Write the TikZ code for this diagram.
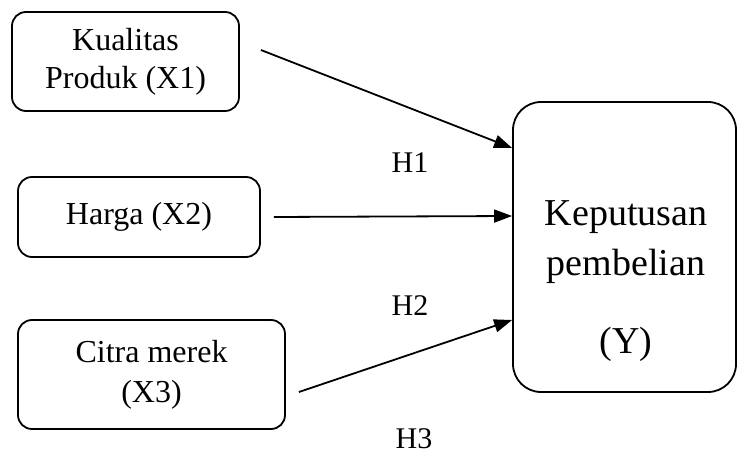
\documentclass[tikz,border=0pt]{standalone}
\usepackage{fontspec}
\setmainfont{Liberation Serif}
\usetikzlibrary{arrows.meta}

\begin{document}
\begin{tikzpicture}[x=1pt, y=-1pt, line width=1.8pt, >={Triangle[length=18pt, width=13pt]},
    every node/.style={align=center},
    varbox/.style={draw, rounded corners=14pt, inner sep=0pt, font=\fontsize{32}{38}\selectfont},
    hlabel/.style={inner sep=0pt, font=\fontsize{30}{36}\selectfont}]
      \useasboundingbox (0,0) rectangle (738,454);
      % independent variables
      \node[varbox, minimum width=227pt, minimum height=99pt] (x1) at (125.5,61.5) {Kualitas\\Produk (X1)};
      \node[varbox, minimum width=242pt, minimum height=80pt] (x2) at (139,217) {Harga (X2)};
      \node[varbox, minimum width=267pt, minimum height=109pt, font=\fontsize{32}{40}\selectfont] (x3) at (151.5,374.5) {Citra merek\\(X3)};
      % dependent variable
      \node[draw, rounded corners=28pt, minimum width=223pt, minimum height=290pt] (y) at (624.5,247) {};
      \node[font=\fontsize{38}{50}\selectfont, anchor=base] (ytext) at (626,353) {Keputusan\\pembelian\\[28pt](Y)};
      % paths
      \draw[->] ([xshift=21pt, yshift=11.5pt]x1.east) -- ([yshift=99pt]y.west);
      \draw[->] ([xshift=13pt]x2.east) -- ([yshift=31pt]y.west);
      \draw[->] ([xshift=13pt, yshift=-17.5pt]x3.east) -- ([yshift=-73pt]y.west);
      \node[hlabel] (h1) at (410,163) {H1};
      \node[hlabel] (h2) at (410,306) {H2};
      \node[hlabel] (h3) at (414,439) {H3};
\end{tikzpicture}
\end{document}
